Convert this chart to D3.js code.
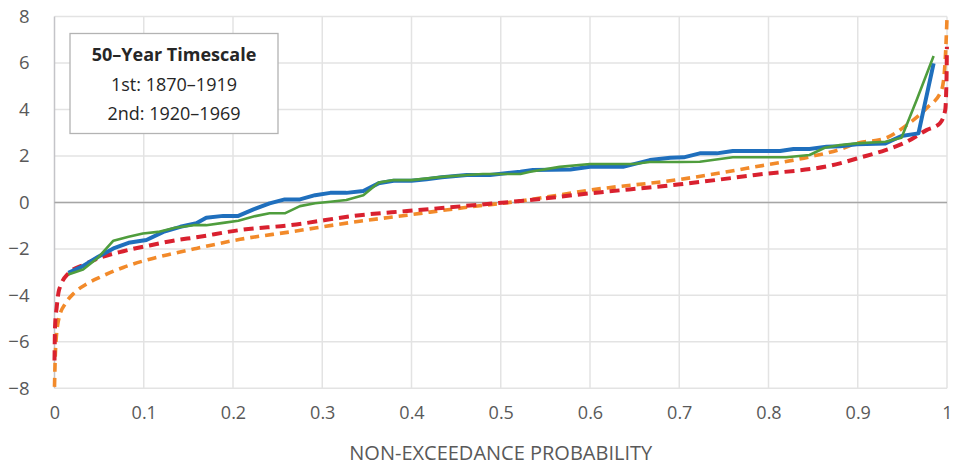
<!DOCTYPE html>
<html>
<head>
<meta charset="utf-8">
<script src="https://cdn.jsdelivr.net/npm/d3@7"></script>
<style>
  body { margin: 0; background: #fff; }
  svg { display: block; }
  svg text { font-family: "Open Sans", "Noto Sans", sans-serif; }
</style>
</head>
<body>
<script>
// empirical quantiles, 1st period (blue)
const blueP = [0.0155, 0.032, 0.049, 0.066, 0.083, 0.103, 0.122, 0.141, 0.159, 0.170, 0.189, 0.206,
  0.223, 0.241, 0.258, 0.275, 0.292, 0.309, 0.327, 0.346, 0.363, 0.380, 0.400, 0.417, 0.434, 0.462,
  0.488, 0.522, 0.536, 0.578, 0.600, 0.637, 0.667, 0.690, 0.705, 0.723, 0.742, 0.760, 0.813, 0.828,
  0.846, 0.865, 0.880, 0.899, 0.931, 0.949, 0.968, 0.985];
const blueV = [-3.03, -2.74, -2.34, -1.98, -1.74, -1.62, -1.27, -1.05, -0.90, -0.66, -0.58, -0.58,
  -0.30, -0.04, 0.13, 0.13, 0.31, 0.41, 0.41, 0.49, 0.82, 0.93, 0.93, 1.00, 1.08, 1.18,
  1.18, 1.32, 1.39, 1.42, 1.53, 1.53, 1.82, 1.92, 1.94, 2.11, 2.11, 2.21, 2.21, 2.30,
  2.30, 2.40, 2.42, 2.50, 2.54, 2.86, 2.97, 5.98];

// empirical quantiles, 2nd period (green)
const greenP = [0.0155, 0.032, 0.049, 0.066, 0.083, 0.099, 0.116, 0.135, 0.156, 0.170, 0.189, 0.206,
  0.225, 0.241, 0.258, 0.275, 0.292, 0.309, 0.327, 0.346, 0.363, 0.380, 0.400, 0.434, 0.462, 0.480,
  0.522, 0.533, 0.566, 0.600, 0.649, 0.667, 0.701, 0.723, 0.760, 0.820, 0.846, 0.863, 0.880, 0.899,
  0.931, 0.949, 0.966, 0.985];
const greenV = [-3.10, -2.89, -2.37, -1.65, -1.48, -1.34, -1.27, -1.09, -0.98, -0.98, -0.88, -0.79,
  -0.59, -0.47, -0.47, -0.16, -0.04, 0.03, 0.10, 0.31, 0.85, 0.96, 0.96, 1.10, 1.18, 1.22,
  1.22, 1.32, 1.53, 1.65, 1.65, 1.74, 1.74, 1.75, 1.94, 1.94, 2.04, 2.35, 2.47, 2.54,
  2.61, 2.78, 4.41, 6.30];

// fitted distribution (red dashed)
const redP = [0.0, 0.0006, 0.0025, 0.005, 0.0155, 0.032, 0.049, 0.077, 0.103, 0.133, 0.159, 0.208,
  0.264, 0.342, 0.395, 0.458, 0.522, 0.600, 0.701, 0.785, 0.880, 0.899, 0.931, 0.955, 0.977,
  0.992, 0.998, 0.9995, 0.9999];
const redV = [-6.8, -5.36, -4.5, -3.78, -3.06, -2.70, -2.41, -2.10, -1.88, -1.65, -1.50, -1.19,
  -0.98, -0.55, -0.37, -0.16, 0.06, 0.39, 0.78, 1.18, 1.68, 1.89, 2.25, 2.61, 3.11,
  3.40, 3.97, 5.40, 6.70];

// fitted distribution (orange dashed)
const orangeP = [0.0, 0.0013, 0.005, 0.0125, 0.022, 0.037, 0.052, 0.077, 0.103, 0.133, 0.159, 0.208,
  0.264, 0.342, 0.395, 0.458, 0.522, 0.600, 0.701, 0.785, 0.846, 0.880, 0.899, 0.931, 0.955,
  0.977, 0.994, 0.998, 1.0];
const orangeV = [-7.94, -6.2, -4.98, -4.34, -3.90, -3.49, -3.20, -2.80, -2.48, -2.20, -1.98, -1.59,
  -1.27, -0.81, -0.55, -0.23, 0.06, 0.53, 0.99, 1.53, 1.96, 2.28, 2.54, 2.76, 3.33,
  4.05, 4.84, 6.13, 7.92];

const xTicks = [0, 0.1, 0.2, 0.3, 0.4, 0.5, 0.6, 0.7, 0.8, 0.9, 1];
const yTicks = [-8, -6, -4, -2, 0, 2, 4, 6, 8];
const legendLines = ["50–Year Timescale", "1st: 1870–1919", "2nd: 1920–1969"];
const xTitle = "NON-EXCEEDANCE PROBABILITY";

const width = 953, height = 467;
const margin = { top: 16.5, right: 6, bottom: 78.7, left: 54.5 };
const innerWidth = width - margin.left - margin.right;
const innerHeight = height - margin.top - margin.bottom;

const svg = d3.select('body').append('svg')
  .attr('width', width)
  .attr('height', height)
  .attr('viewBox', `0 0 ${width} ${height}`);

const g = svg.append('g')
  .attr('transform', `translate(${margin.left},${margin.top})`);

const x = d3.scaleLinear().domain([0, 1]).range([0, innerWidth]);
const y = d3.scaleLinear().domain([-8, 8]).range([innerHeight, 0]);

// grid
g.append('g')
  .selectAll('line')
  .data(yTicks)
  .enter().append('line')
  .attr('x1', 0).attr('x2', innerWidth)
  .attr('y1', d => y(d)).attr('y2', d => y(d))
  .attr('stroke', '#e3e3e3')
  .attr('stroke-width', 1.5);

g.append('g')
  .selectAll('line')
  .data(xTicks)
  .enter().append('line')
  .attr('x1', d => x(d)).attr('x2', d => x(d))
  .attr('y1', 0).attr('y2', innerHeight)
  .attr('stroke', d => d === 0 ? '#c4c4c8' : '#e3e3e3')
  .attr('stroke-width', 1.5);

// zero line
g.append('line')
  .attr('x1', 0).attr('x2', innerWidth)
  .attr('y1', y(0)).attr('y2', y(0))
  .attr('stroke', '#a6a6a6')
  .attr('stroke-width', 1.5);

// axes (labels only)
const xAxis = g.append('g')
  .attr('transform', `translate(0,${innerHeight})`)
  .call(d3.axisBottom(x).tickValues(xTicks).tickSize(0).tickPadding(18)
    .tickFormat(d => d === 0 || d === 1 ? String(d) : d3.format('.1f')(d)));
xAxis.select('.domain').remove();
xAxis.selectAll('text')
  .attr('fill', '#595959')
  .style('font-size', '18px');

const yAxis = g.append('g')
  .call(d3.axisLeft(y).tickValues(yTicks).tickSize(0).tickPadding(25)
    .tickFormat(d => d < 0 ? '−' + Math.abs(d) : String(d)));
yAxis.select('.domain').remove();
yAxis.selectAll('text')
  .attr('fill', '#595959')
  .style('font-size', '18.5px');

// series
const series = [
  { p: orangeP, v: orangeV, color: '#f28a2a', width: 3.6, dash: '9,6', curve: d3.curveMonotoneX },
  { p: redP, v: redV, color: '#d9212f', width: 4, dash: '10,6', curve: d3.curveMonotoneX },
  { p: blueP, v: blueV, color: '#1f6fbd', width: 4, dash: null, curve: d3.curveLinear },
  { p: greenP, v: greenV, color: '#4f9d3d', width: 2.6, dash: null, curve: d3.curveLinear }
];

series.forEach(s => {
  const pts = s.p.map((p, i) => [p, s.v[i]]);
  const line = d3.line()
    .x(d => x(d[0]))
    .y(d => y(d[1]))
    .curve(s.curve);
  g.append('path')
    .datum(pts)
    .attr('fill', 'none')
    .attr('stroke', s.color)
    .attr('stroke-width', s.width)
    .attr('stroke-dasharray', s.dash)
    .attr('stroke-linejoin', 'round')
    .attr('d', line);
});

// legend box
const legend = svg.append('g');
legend.append('rect')
  .attr('x', 70).attr('y', 33.5)
  .attr('width', 208).attr('height', 100)
  .attr('fill', '#fff')
  .attr('stroke', '#b3b3b3')
  .attr('stroke-width', 1.3);
legend.selectAll('text')
  .data(legendLines)
  .enter().append('text')
  .attr('x', 174)
  .attr('y', (d, i) => 61 + i * 29.5)
  .attr('text-anchor', 'middle')
  .attr('fill', '#262626')
  .style('font-size', '18px')
  .style('font-weight', (d, i) => i === 0 ? 700 : 400)
  .text(d => d);

// x title
svg.append('text')
  .attr('x', margin.left + innerWidth / 2)
  .attr('y', 460)
  .attr('text-anchor', 'middle')
  .attr('fill', '#595959')
  .style('font-size', '20px')
  .text(xTitle);
</script>
</body>
</html>
